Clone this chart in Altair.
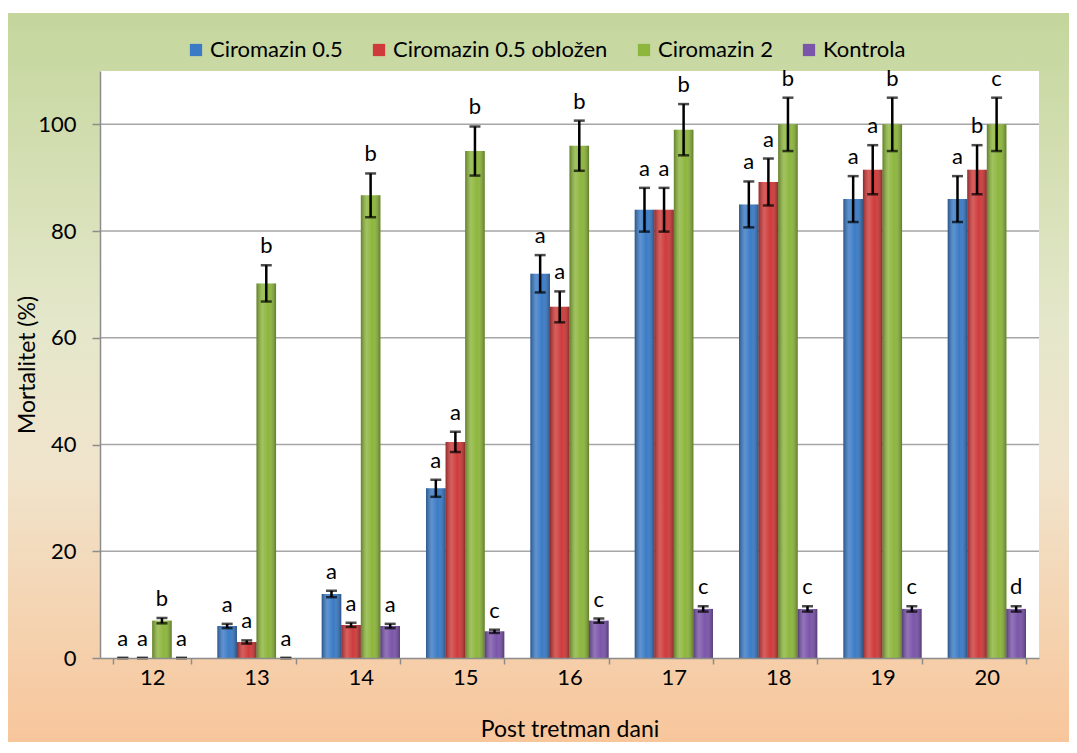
import altair as alt
import pandas as pd

days = ["12", "13", "14", "15", "16", "17", "18", "19", "20"]
series = ["Ciromazin 0.5", "Ciromazin 0.5 obložen", "Ciromazin 2", "Kontrola"]
colors = ["#3b7bc6", "#cf3b3b", "#8db63d", "#7b55aa"]

c05 = [0, 6, 12, 31.8, 72, 84, 85, 86, 86]
c05_err = [0, 0.4, 0.6, 1.6, 3.5, 4.1, 4.3, 4.3, 4.3]
c05_let = ["a", "a", "a", "a", "a", "a", "a", "a", "a"]

c05o = [0, 3, 6.2, 40.5, 65.8, 84, 89.2, 91.5, 91.5]
c05o_err = [0, 0.3, 0.4, 1.9, 2.9, 4.1, 4.4, 4.6, 4.6]
c05o_let = ["a", "a", "a", "a", "a", "a", "a", "a", "b"]

c2 = [7, 70.2, 86.7, 95, 96, 99, 100, 100, 100]
c2_err = [0.5, 3.4, 4.1, 4.6, 4.7, 4.8, 5, 5, 5]
c2_let = ["b", "b", "b", "b", "b", "b", "b", "b", "c"]

kon = [0, 0, 6, 5, 7, 9.2, 9.2, 9.2, 9.2]
kon_err = [0, 0, 0.4, 0.3, 0.4, 0.5, 0.5, 0.5, 0.5]
kon_let = ["a", "a", "a", "c", "c", "c", "c", "c", "d"]

grid_vals = [20, 40, 60, 80, 100]
tick_vals = [0, 20, 40, 60, 80, 100]

rows = []
for s, vals, errs, lets in zip(series, [c05, c05o, c2, kon],
                               [c05_err, c05o_err, c2_err, kon_err],
                               [c05_let, c05o_let, c2_let, kon_let]):
    for d, v, e, l in zip(days, vals, errs, lets):
        rows.append({"day": d, "series": s, "value": v,
                     "lo": v - e, "hi": v + e, "letter": l})
df = pd.DataFrame(rows)

W, H = 939, 587
FONT = "Lato"
YT = "Mortalitet (%)"
yscale = alt.Scale(domain=[0, 110], nice=False, zero=True)

x_enc = alt.X("day:N", sort=days, title="Post tretman dani",
              scale=alt.Scale(paddingInner=0.25, paddingOuter=0.125),
              axis=alt.Axis(tickBand="extent", labelAngle=0, tickSize=6,
                            tickColor="#8c8c8c", domainColor="#8c8c8c",
                            domainWidth=1.5, tickWidth=1.5, labelPadding=3,
                            labelFont=FONT, labelFontSize=22, labelColor="#000",
                            titleFont=FONT, titleFontSize=23, titleFontWeight="normal",
                            titleColor="#000", titleBaseline="alphabetic",
                            titlePadding=48, grid=False, zindex=2))
xo_enc = alt.XOffset("series:N", sort=series, scale=alt.Scale(paddingInner=0, paddingOuter=0))

bg_grad = alt.LinearGradient(gradient="linear", x1=0, x2=0, y1=0, y2=1,
                             stops=[alt.GradientStop(color="#c4d69c", offset=0),
                                    alt.GradientStop(color="#e4e7ca", offset=0.42),
                                    alt.GradientStop(color="#f0e4cc", offset=0.62),
                                    alt.GradientStop(color="#f8c59a", offset=1)])
bar_grad = alt.LinearGradient(gradient="linear", x1=0, x2=1, y1=0, y2=0,
                              stops=[alt.GradientStop(color="rgba(0,0,0,0.30)", offset=0),
                                     alt.GradientStop(color="rgba(255,255,255,0.18)", offset=0.3),
                                     alt.GradientStop(color="rgba(255,255,255,0.0)", offset=0.6),
                                     alt.GradientStop(color="rgba(0,0,0,0.32)", offset=1)])

one = pd.DataFrame({"k": [0]})
bg = alt.Chart(one).mark_rect(color=bg_grad, clip=False).encode(
    x=alt.value(-93), x2=alt.value(W + 40), y=alt.value(-58), y2=alt.value(H + 90))
white = alt.Chart(one).mark_rect(color="white").encode(
    x=alt.value(0), x2=alt.value(W), y=alt.value(0), y2=alt.value(H))
grid = alt.Chart(pd.DataFrame({"value": grid_vals})).mark_rule(
    color="#a6a6a6", strokeWidth=1.5).encode(y=alt.Y("value:Q", scale=yscale, title=YT))

base = alt.Chart(df)
bars = base.mark_bar().encode(
    x=x_enc, xOffset=xo_enc,
    y=alt.Y("value:Q", scale=yscale, title=YT,
            axis=alt.Axis(values=tick_vals, tickSize=8, tickColor="#8c8c8c",
                          domainColor="#8c8c8c", domainWidth=1.5, tickWidth=1.5,
                          labelFont=FONT, labelFontSize=22, labelColor="#000",
                          labelPadding=16, titleFont=FONT, titleFontSize=23,
                          titleFontWeight="normal", titleColor="#000",
                          titleX=-61, titleY=H / 2, titleBaseline="bottom",
                          grid=False, zindex=2)),
    color=alt.Color("series:N", sort=series,
                    scale=alt.Scale(domain=series, range=colors),
                    legend=alt.Legend(title=None, orient="none", direction="horizontal",
                                      legendX=85, legendY=-32, symbolType="square",
                                      symbolSize=150, symbolStrokeWidth=0,
                                      labelFont=FONT, labelFontSize=22, labelColor="#000",
                                      labelOffset=3, columnPadding=25, padding=0,
                                      labelLimit=500, zindex=2)))
shade = base.mark_bar(color=bar_grad).encode(
    x=x_enc, xOffset=xo_enc, y=alt.Y("value:Q", scale=yscale, title=YT))
err = base.mark_rule(color="black", strokeWidth=2.5).encode(
    x=x_enc, xOffset=xo_enc, y=alt.Y("lo:Q", scale=yscale, title=YT), y2="hi:Q")
cap_lo = base.mark_tick(color="black", size=11, thickness=2.5).encode(
    x=x_enc, xOffset=xo_enc, y=alt.Y("lo:Q", scale=yscale, title=YT))
cap_hi = base.mark_tick(color="black", size=11, thickness=2.5).encode(
    x=x_enc, xOffset=xo_enc, y=alt.Y("hi:Q", scale=yscale, title=YT))
letters = base.mark_text(font=FONT, fontSize=22, color="black",
                         baseline="bottom", dy=-7).encode(
    x=x_enc, xOffset=xo_enc, y=alt.Y("hi:Q", scale=yscale, title=YT), text="letter:N")

chart = alt.layer(bg, white, grid, bars, shade, err, cap_lo, cap_hi, letters).properties(
    width=W, height=H,
    autosize=alt.AutoSizeParams(type="none"),
    padding={"left": 92, "top": 63, "right": 30, "bottom": 84},
    background="white",
).configure_view(stroke=None)

chart.save("out.html", embed_options={"renderer": "svg", "actions": False})
